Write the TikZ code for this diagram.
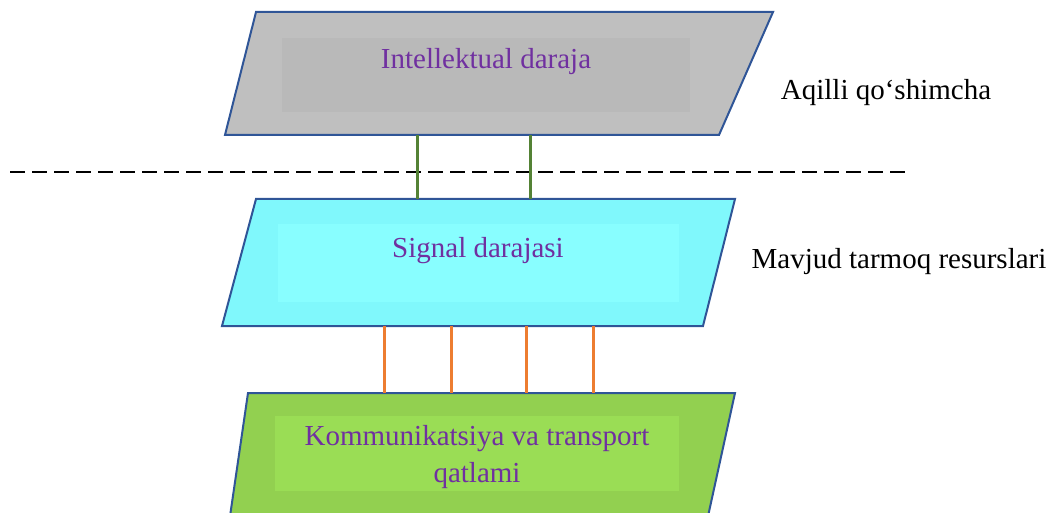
\documentclass[tikz,border=0pt]{standalone}
\usepackage{fontspec}
\setmainfont{Liberation Serif}
\definecolor{bord}{HTML}{2F5597}
\definecolor{purp}{HTML}{7030A0}
\definecolor{grayA}{HTML}{BFBFBF}
\definecolor{grayB}{HTML}{B9B9B9}
\definecolor{cyanA}{HTML}{80F8FC}
\definecolor{cyanB}{HTML}{88FEFF}
\definecolor{grnA}{HTML}{92D050}
\definecolor{grnB}{HTML}{9ADD55}
\definecolor{lnG}{HTML}{548235}
\definecolor{lnO}{HTML}{ED7D31}
\begin{document}
\begin{tikzpicture}[x=1pt,y=-1pt,
  layer/.style={draw=bord,line width=2pt,line join=miter},
  lbl/.style={text=purp,font=\fontsize{29}{37}\selectfont,align=center},
  side/.style={font=\fontsize{29}{34}\selectfont,text=black},
  gcon/.style={draw=lnG,line width=3pt},
  ocon/.style={draw=lnO,line width=3pt}]
\useasboundingbox (0,0) rectangle (1050,513);
\clip (0,0) rectangle (1050,513);
% top layer
\filldraw[layer,fill=grayA] (256,12) -- (773,12) -- (719,135) -- (225,135) -- cycle;
\fill[grayB] (282,38) rectangle (690,112);
\node[lbl] (intel) at (486,62) {Intellektual daraja};
% middle layer
\filldraw[layer,fill=cyanA] (256,199) -- (735,199) -- (703,326) -- (222,326) -- cycle;
\fill[cyanB] (278,224) rectangle (679,302);
\node[lbl] (sig) at (478,251) {Signal darajasi};
% bottom layer
\filldraw[layer,fill=grnA] (248,393) -- (735,393) -- (705,530) -- (228,530) -- cycle;
\fill[grnB] (275,416) rectangle (679,491);
\node[lbl] (kom) at (477,457) {Kommunikatsiya va transport\\qatlami};
% dashed separator
\coordinate (dl) at (10,172);
\coordinate (dr) at (905,172);
\draw[black,line width=1.4pt,dash pattern=on 15pt off 7pt] (dl) -- (dr);
% side labels
\node[side] (aq) at (886,93) {Aqilli qo‘shimcha};
\node[side] (mv) at (899,262) {Mavjud tarmoq resurslari};
% green connectors
\foreach \x [count=\i] in {417,530}{
  \coordinate (gt\i) at (\x,135);
  \coordinate (gb\i) at (\x,199);
  \draw[gcon] (gt\i) -- (gb\i);
}
% orange connectors
\foreach \x [count=\i] in {384,451,526,593}{
  \coordinate (ot\i) at (\x,326);
  \coordinate (ob\i) at (\x,393);
  \draw[ocon] (ot\i) -- (ob\i);
}
\end{tikzpicture}
\end{document}
